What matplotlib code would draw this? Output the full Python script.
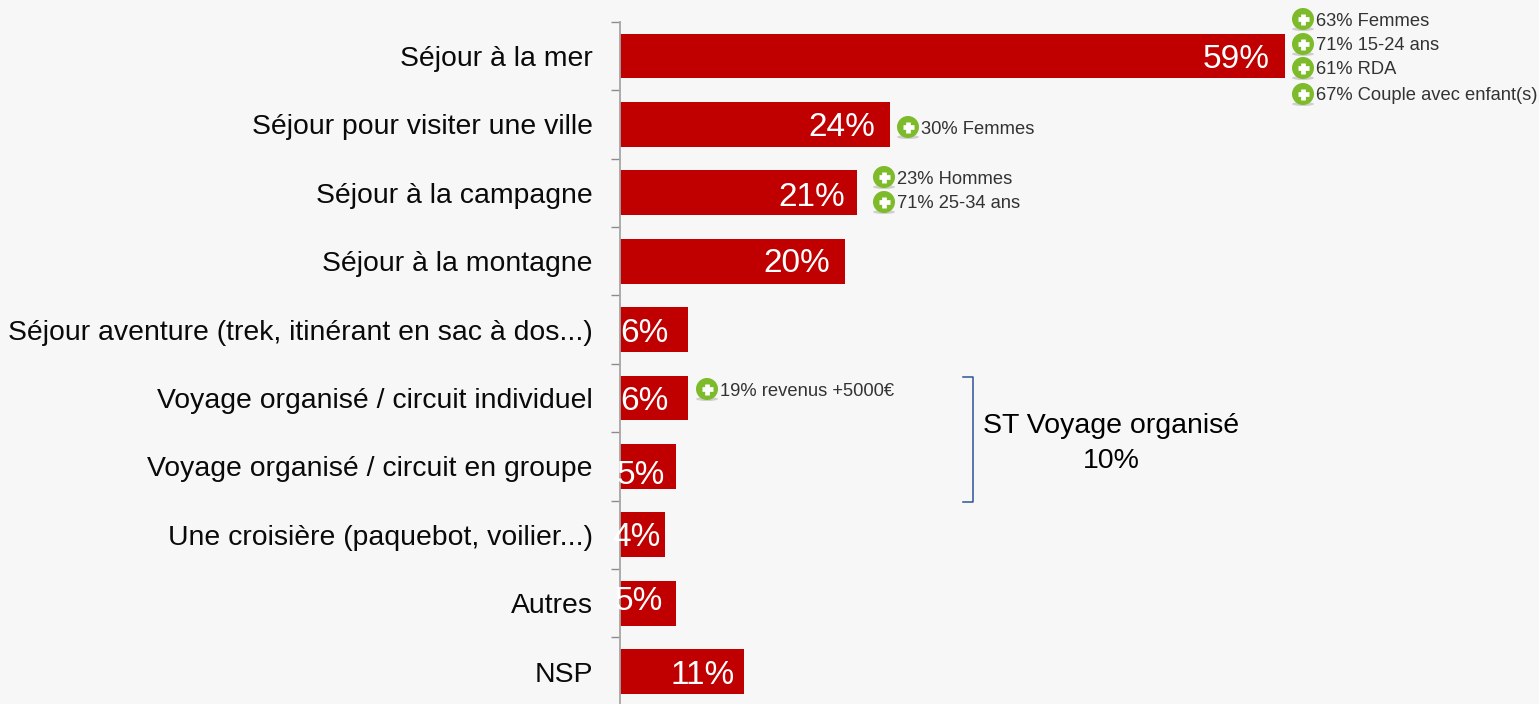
import matplotlib
matplotlib.use("Agg")
import matplotlib.pyplot as plt
from matplotlib.patches import Circle, Ellipse

plt.rcParams['font.family'] = ['Liberation Sans', 'DejaVu Sans']

#data
categories = ["Séjour à la mer", "Séjour pour visiter une ville", "Séjour à la campagne",
              "Séjour à la montagne", "Séjour aventure (trek, itinérant en sac à dos...)",
              "Voyage organisé / circuit individuel", "Voyage organisé / circuit en groupe",
              "Une croisière (paquebot, voilier...)", "Autres", "NSP"]
values = [59, 24, 21, 20, 6, 6, 5, 4, 5, 11]
notes = ["63% Femmes", "71% 15-24 ans", "61% RDA", "67% Couple avec enfant(s)",
         "30% Femmes", "23% Hommes", "71% 25-34 ans", "19% revenus +5000€"]
group_title = "ST Voyage organisé"
group_value = "10%"

#placement in pixels
label_x = [1236, 842, 812, 797, 644, 644, 641, 636, 639, 703]
label_y = [59, 127, 197, 264, 334, 401, 475, 537, 601, 675]
note_x = [1303, 1303, 1303, 1303, 908, 884, 884, 707]
note_y = [19, 44, 68, 94, 127, 177, 202, 389]

W, H = 1539, 704
bg = "#F7F7F7"
red = "#C00000"
grey = "#A6A6A6"

fig = plt.figure(figsize=(W / 100, H / 100), dpi=100, facecolor=bg)

#bar chart, one category = 68.4 px, one percent = 11.27 px
top = 21.8
bottom = 704
ax = fig.add_axes([620 / W, 0, (W - 620) / W, (bottom - top) / H], facecolor="none")
ax.barh(range(len(values)), values, height=0.655, color=red, edgecolor="none", zorder=2)
ax.set_xlim(0, (W - 620) / 11.27)
ax.set_ylim((bottom - 56) / 68.4, -0.5)
for s in ["top", "right", "bottom"]:
    ax.spines[s].set_visible(False)
ax.spines["left"].set_color(grey)
ax.spines["left"].set_linewidth(1.3)
ax.set_xticks([])
ax.set_yticks(range(len(categories)))
ax.set_yticklabels(categories, fontsize=20.4, color="#0A0A0A")
ax.tick_params(axis="y", which="major", length=0, pad=19.5)
ax.set_yticks([i - 0.5 for i in range(len(categories))], minor=True)
ax.tick_params(axis="y", which="minor", length=6.5, width=1.0, color="#8C8C8C")

#overlay in pixel coordinates
ov = fig.add_axes([0, 0, 1, 1], facecolor="none")
ov.set_xlim(0, W)
ov.set_ylim(H, 0)
ov.axis("off")

for v, x, y in zip(values, label_x, label_y):
    ov.text(x, y, str(v) + "%", color="white", fontsize=24, ha="center", va="center")

for txt, x, y in zip(notes, note_x, note_y):
    ov.add_patch(Ellipse((x, y + 10), 22, 4, color="#CFCFCF", lw=0))
    ov.add_patch(Circle((x, y), 11, color="#7DBB2A", lw=0))
    ov.plot([x - 5.5, x + 5.5], [y, y], color="white", lw=3.4, solid_capstyle="butt")
    ov.plot([x, x], [y - 5.5, y + 5.5], color="white", lw=3.4, solid_capstyle="butt")
    ov.text(x + 13, y + 2, txt, color="#333333", fontsize=13.2, ha="left", va="center")

#bracket
ov.plot([963, 973, 973, 963], [377, 377, 502, 502], color="#2F5597", lw=1.1)
ov.text(1111, 426, group_title, color="black", fontsize=20.5, ha="center", va="center")
ov.text(1111, 461, group_value, color="black", fontsize=20.5, ha="center", va="center")

fig.savefig("out.png", dpi=100, facecolor=bg)
